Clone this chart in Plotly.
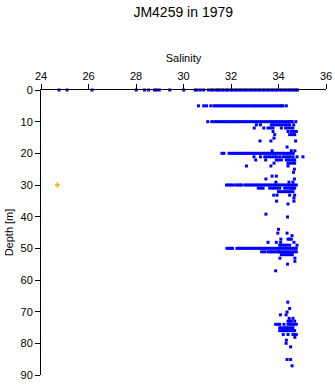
import plotly.graph_objects as go

# Depth [m] of each sampling row and the salinity values measured there
profile_depths = [0, 5, 10, 11.0, 12.0, 13.1, 14.1, 15.2, 16.1, 18.0, 19.2, 20, 21.1, 22.1, 23.1,
                  24.0, 25.0, 26.0, 27.2, 28.1, 29.1, 30, 31.0, 32.1, 33.2, 34.1, 35.1, 36.0,
                  39.2, 40.1, 44.0, 45.2, 46.0, 47.1, 48.1, 49.0, 50, 51.1, 52.0, 53.1, 54.1,
                  55.0, 57.1, 67.0, 69.0, 70.1, 71.0, 72.1, 73.0, 74.0, 75.1, 76.0, 77.2, 78.1,
                  79.0, 80.0, 81.1, 85.1, 87.1, 90.1]

profile_salinity = [
    # 0 m
    [24.76, 25.10, 26.15, 28.01, 28.36, 28.53, 28.78, 28.87, 28.98, 29.42, 30.01, 30.49, 30.57,
     30.71, 30.85, 31.05, 31.18, 31.25, 31.37, 31.44, 31.52, 31.63, 31.70, 31.81, 31.88, 31.99,
     32.06, 32.17, 32.24, 32.35, 32.42, 32.53, 32.61, 32.69, 32.80, 32.87, 32.98, 33.05, 33.16,
     33.23, 33.34, 33.41, 33.52, 33.59, 33.70, 33.77, 33.88, 33.95, 34.06, 34.13, 34.24, 34.31,
     34.42, 34.49, 34.58, 34.66, 34.73, 34.80],
    # 5 m
    [30.63, 30.85, 30.97, 31.15, 31.28, 31.37, 31.46, 31.55, 31.64, 31.73, 31.82, 31.91, 32.00,
     32.09, 32.18, 32.27, 32.36, 32.45, 32.54, 32.63, 32.72, 32.81, 32.90, 32.99, 33.08, 33.17,
     33.26, 33.35, 33.44, 33.53, 33.62, 33.71, 33.80, 33.89, 33.98, 34.07, 34.13, 34.19, 34.33],
    # 10 m
    [31.02, 31.19, 31.31, 31.40, 31.49, 31.58, 31.67, 31.76, 31.85, 31.94, 32.03, 32.12, 32.21,
     32.30, 32.39, 32.48, 32.57, 32.66, 32.75, 32.84, 32.93, 33.02, 33.11, 33.20, 33.29, 33.38,
     33.47, 33.56, 33.65, 33.74, 33.83, 33.92, 34.01, 34.10, 34.19, 34.28, 34.37, 34.46, 34.52,
     34.58, 34.73],
    [33.07, 33.24, 33.70, 33.80, 33.90, 34.00, 34.10, 34.20, 34.30, 34.40, 34.47, 34.64],
    [32.98, 33.38, 33.56, 33.66, 33.77, 34.12, 34.30, 34.40, 34.50, 34.61],
    [33.77, 34.40, 34.54, 34.64, 34.75],
    [33.84, 34.47, 34.58, 34.68],
    [33.81],
    [33.22, 33.68, 34.72],
    [34.36],
    [33.73, 34.54, 34.69],
    # 20 m
    [31.62, 31.70, 31.92, 32.01, 32.10, 32.19, 32.28, 32.37, 32.46, 32.55, 32.64, 32.73, 32.82,
     32.91, 33.00, 33.09, 33.18, 33.27, 33.36, 33.45, 33.54, 33.63, 33.72, 33.81, 33.90, 33.99,
     34.08, 34.17, 34.26, 34.35, 34.44, 34.53, 34.62],
    [32.97, 33.24, 33.42, 33.52, 33.62, 33.72, 33.82, 33.92, 34.05, 34.19, 34.29, 34.39, 34.49,
     34.61, 34.78, 35.03],
    [33.04, 33.46, 33.91, 34.01, 34.12, 34.33, 34.43, 34.53, 34.63, 34.68],
    [33.81, 34.40, 34.50, 34.60, 34.68],
    [32.65, 33.68, 34.40],
    [34.67],
    [34.63],
    [33.73, 33.91],
    [33.47, 34.67],
    [33.89, 34.44, 34.61],
    # 30 m
    [31.81, 31.90, 31.99, 32.08, 32.20, 32.29, 32.37, 32.44, 32.58, 32.67, 32.76, 32.85, 32.94,
     33.03, 33.12, 33.21, 33.30, 33.39, 33.48, 33.57, 33.66, 33.75, 33.84, 33.93, 34.02, 34.11,
     34.20, 34.29, 34.38, 34.47, 34.56, 34.65, 34.75],
    [33.15, 33.25, 33.35, 33.63, 33.73, 33.83, 33.93, 34.05, 34.26, 34.36, 34.47, 34.54, 34.61,
     34.68],
    [34.00, 34.10, 34.20, 34.30, 34.40, 34.50, 34.61],
    [33.80, 33.94, 34.47, 34.68],
    [34.65],
    [33.92, 34.65],
    [34.40],
    [33.47],
    [34.38],
    [34.00],
    [33.97, 34.36],
    [34.57],
    [34.10, 34.40, 34.47, 34.54],
    [33.56, 33.91, 34.09, 34.65],
    [34.05, 34.15, 34.25, 34.35, 34.47, 34.78],
    # 50 m
    [31.83, 31.92, 32.01, 32.06, 32.25, 32.33, 32.40, 32.46, 32.55, 32.64, 32.73, 32.82, 32.91,
     33.00, 33.09, 33.18, 33.27, 33.36, 33.45, 33.54, 33.63, 33.72, 33.81, 33.90, 33.99, 34.08,
     34.17, 34.26, 34.35, 34.44, 34.53, 34.62, 34.70, 34.75],
    [33.29, 33.41, 33.55, 33.66, 33.73, 33.83, 33.93, 34.00, 34.05, 34.15, 34.25, 34.35, 34.45,
     34.55, 34.65, 34.75],
    [34.12, 34.22, 34.32, 34.42, 34.50, 34.58],
    [34.06, 34.69],
    [34.69],
    [34.38],
    [33.88],
    [34.39],
    [34.47],
    [34.36],
    [34.08, 34.32],
    [34.45, 34.61],
    [34.40, 34.47, 34.54, 34.68],
    [33.88, 33.97, 34.05, 34.23, 34.40, 34.50, 34.60, 34.68, 34.75],
    [34.05, 34.15, 34.26, 34.32, 34.42, 34.54, 34.61],
    [34.05, 34.15, 34.25, 34.33, 34.40, 34.50, 34.60, 34.68],
    [34.20, 34.40, 34.61, 34.68, 34.75],
    [34.69],
    [34.33],
    [34.32],
    [34.51],
    [34.36, 34.51],
    [34.57],
    [34.37],
]

# flagged (orange) observation
flag_salinity = [24.69]
flag_depth = [30]

x_tick_values = [24, 26, 28, 30, 32, 34, 36]
y_tick_values = [0, 10, 20, 30, 40, 50, 60, 70, 80, 90]

xs, ys = [], []
for d, sals in zip(profile_depths, profile_salinity):
    for s in sals:
        xs.append(s)
        ys.append(d)

FONT = "Liberation Sans, Arial, Helvetica, sans-serif"

fig = go.Figure()
fig.add_trace(go.Scatter(
    x=xs, y=ys, mode="markers",
    marker=dict(symbol="square", size=3, color="#0000ff", line=dict(width=0)),
    showlegend=False, hoverinfo="x+y", cliponaxis=False,
))
fig.add_trace(go.Scatter(
    x=flag_salinity, y=flag_depth, mode="markers",
    marker=dict(symbol="cross", size=4, color="#ffa500", line=dict(width=0)),
    showlegend=False, hoverinfo="x+y",
))

fig.update_layout(
    width=335, height=384,
    margin=dict(l=41, r=9, t=90, b=9, autoexpand=False),
    paper_bgcolor="white", plot_bgcolor="white",
    font=dict(family=FONT, size=11, color="black"),
    title=dict(text="JM4259 in 1979", x=0.547, xanchor="center",
               y=1 - 12 / 384, yanchor="middle", yref="container",
               font=dict(family=FONT, size=14, color="black")),
    xaxis=dict(
        side="top", range=[24, 36], tickvals=x_tick_values,
        ticks="outside", ticklen=5, tickcolor="black", tickwidth=1,
        showline=True, linecolor="black", linewidth=1,
        showgrid=False, zeroline=False, automargin=False,
        tickfont=dict(size=11), title=dict(text="Salinity", font=dict(size=11), standoff=4),
    ),
    yaxis=dict(
        range=[90, 0], tickvals=y_tick_values,
        ticks="outside", ticklen=5, tickcolor="black", tickwidth=1,
        showline=True, linecolor="black", linewidth=1,
        showgrid=False, zeroline=False, automargin=False,
        tickfont=dict(size=11), title=dict(text="Depth [m]", font=dict(size=11), standoff=4),
    ),
)

fig.write_html("out.html")
